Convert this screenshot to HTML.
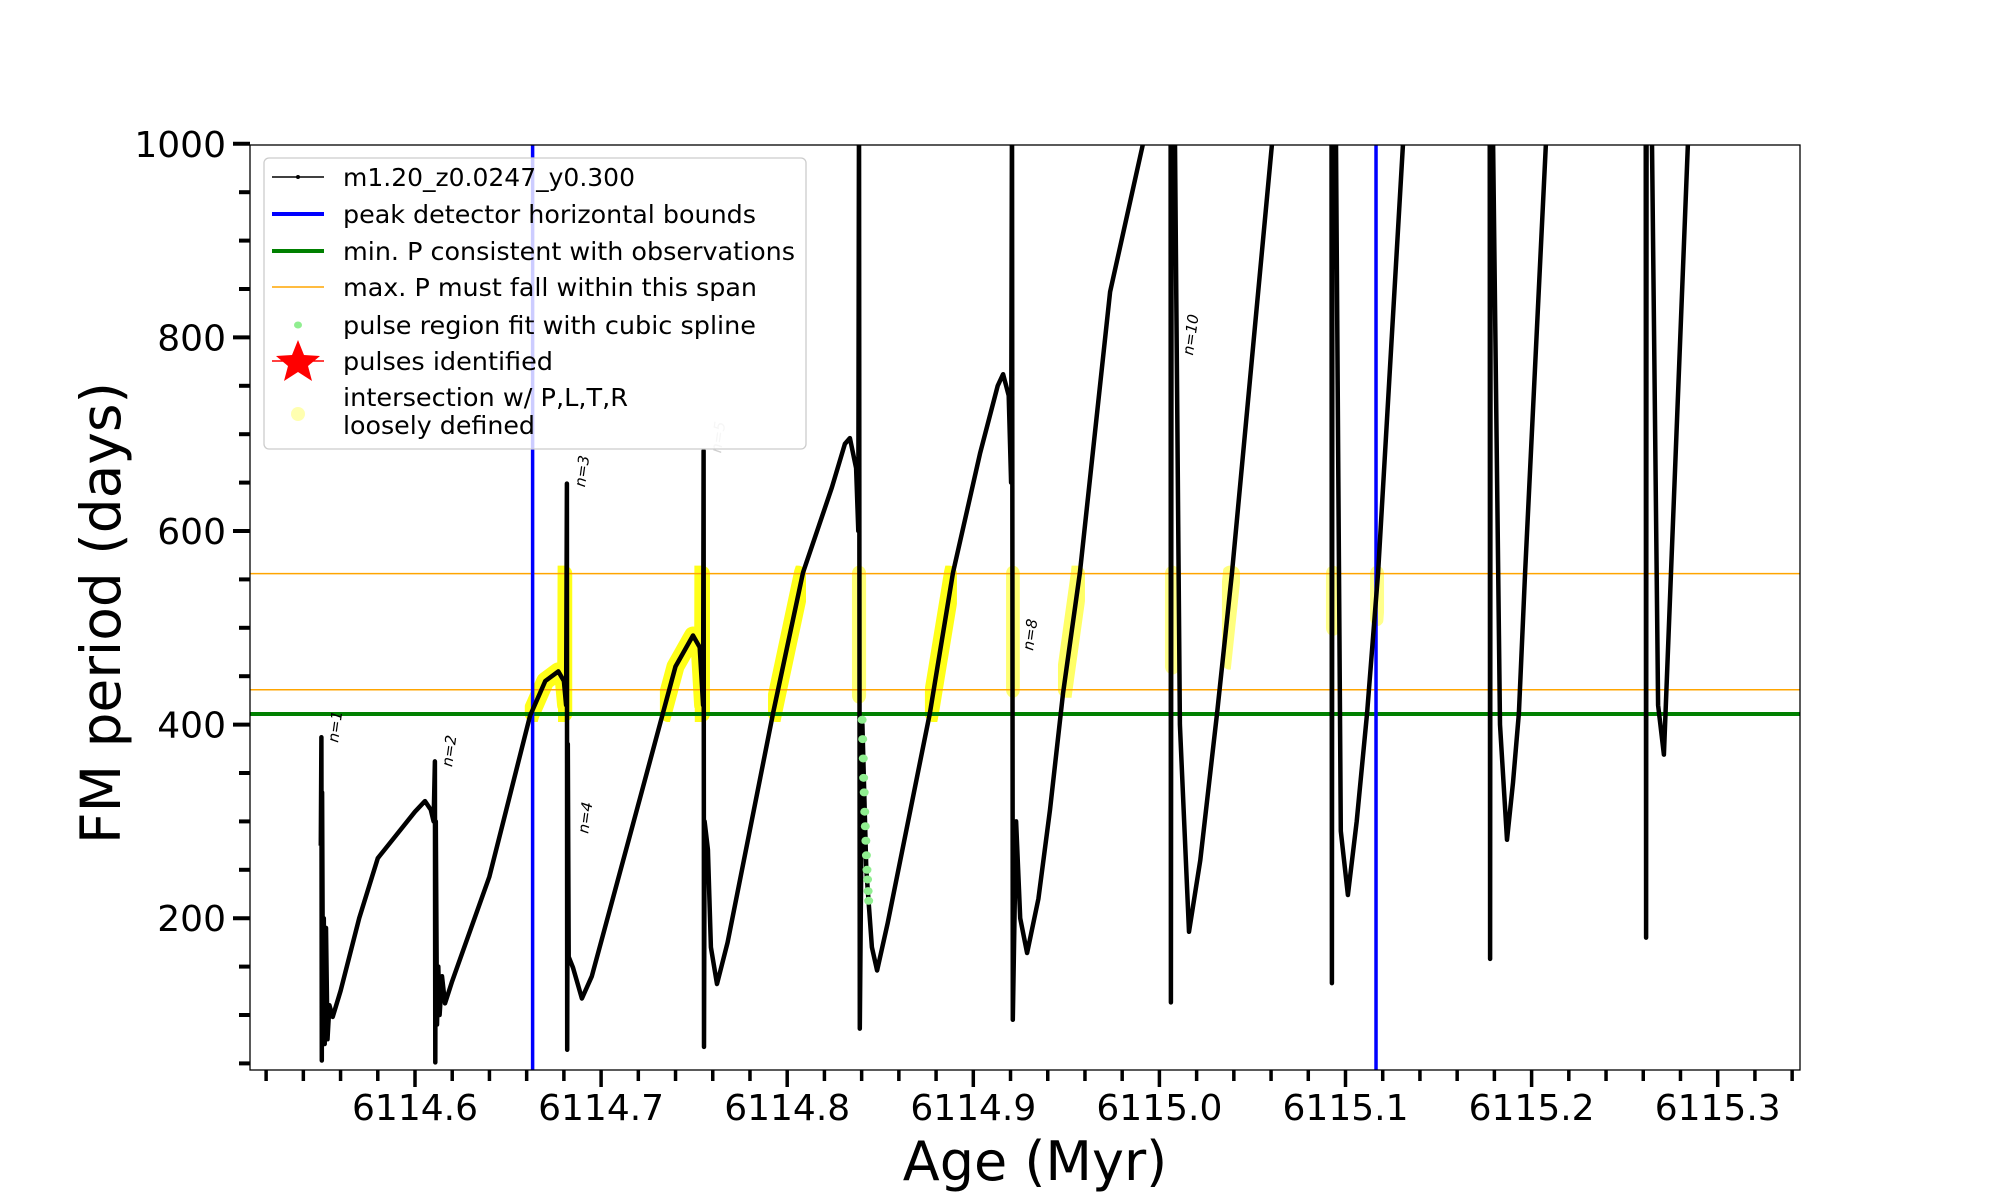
<!DOCTYPE html>
<html><head><meta charset="utf-8"><style>
body{margin:0;background:#fff}
svg{display:block;font-family:"DejaVu Sans","Liberation Sans",sans-serif}
</style></head><body>
<svg id="chart" width="2000" height="1200" viewBox="0 0 2000 1200">
<defs>
<clipPath id="plotclip"><rect x="250" y="145" width="1550" height="925"/></clipPath>
</defs>
<g id="hl" clip-path="url(#plotclip)"></g>
<g id="plot" clip-path="url(#plotclip)"></g>
<rect x="250" y="145" width="1550" height="925" fill="none" stroke="#000" stroke-width="1.3"/>
<g id="axes"></g>
<text x="1035" y="1180" font-size="54" text-anchor="middle">Age (Myr)</text>
<text transform="translate(120,613) rotate(-90)" font-size="55" text-anchor="middle">FM period (days)</text>
<g id="legend">
<rect x="264" y="158" width="542" height="291" rx="5" fill="#fff" fill-opacity="0.8" stroke="#ccc" stroke-width="1.3"/>
<g><line x1="272" y1="177" x2="324" y2="177" stroke="#000" stroke-width="1.5"/><circle cx="298" cy="177" r="2" fill="#000"/><text x="343" y="186" font-size="25" textLength="292" lengthAdjust="spacingAndGlyphs">m1.20_z0.0247_y0.300</text></g>
<g><line x1="272" y1="214" x2="324" y2="214" stroke="#0000ff" stroke-width="4"/><text x="343" y="223" font-size="25" textLength="413" lengthAdjust="spacingAndGlyphs">peak detector horizontal bounds</text></g>
<g><line x1="272" y1="251" x2="324" y2="251" stroke="#008000" stroke-width="4"/><text x="343" y="260" font-size="25" textLength="452" lengthAdjust="spacingAndGlyphs">min. P consistent with observations</text></g>
<g><line x1="272" y1="287" x2="324" y2="287" stroke="#ffa500" stroke-width="1.5"/><text x="343" y="296" font-size="25" textLength="414" lengthAdjust="spacingAndGlyphs">max. P must fall within this span</text></g>
<g><ellipse cx="298" cy="325" rx="4" ry="3.5" fill="#90ee90"/><text x="343" y="334" font-size="25" textLength="413" lengthAdjust="spacingAndGlyphs">pulse region fit with cubic spline</text></g>
<g><line x1="272" y1="361" x2="324" y2="361" stroke="#ff0000" stroke-width="1.5"/><polygon points="298,340 304,355 320,356 308,366 312,381 298,372 284,381 288,366 276,356 292,355" fill="#ff0000"/><text x="343" y="370" font-size="25" textLength="210" lengthAdjust="spacingAndGlyphs">pulses identified</text></g>
<g><ellipse cx="298" cy="414" rx="7" ry="7" fill="#ffffb0"/><text x="343" y="406" font-size="25" textLength="285" lengthAdjust="spacingAndGlyphs">intersection w/ P,L,T,R</text><text x="343" y="434" font-size="25" textLength="192" lengthAdjust="spacingAndGlyphs">loosely defined</text></g>
</g>
</svg>
<script>
const xTicks=[6114.6,6114.7,6114.8,6114.9,6115.0,6115.1,6115.2,6115.3];
const xTickLabels=["6114.6","6114.7","6114.8","6114.9","6115.0","6115.1","6115.2","6115.3"];
const yTicks=[200,400,600,800,1000];
const yTickLabels=["200","400","600","800","1000"];
const minP=411;
const maxPLow=436;
const maxPHigh=556;
const boundsAges=[6114.6632,6115.1164];
const curveAges=[6114.5494,6114.5497,6114.5499,6114.5501,6114.5505,6114.5510,6114.5515,6114.5522,6114.5530,6114.5540,6114.5558,6114.5600,6114.5700,6114.5800,6114.6000,6114.6054,6114.6085,6114.6100,6114.6107,6114.6109,6114.6112,6114.6118,6114.6125,6114.6132,6114.6145,6114.6161,6114.6200,6114.6400,6114.6618,6114.6700,6114.6770,6114.6800,6114.6812,6114.6816,6114.6818,6114.6821,6114.6826,6114.6849,6114.6870,6114.6897,6114.6950,6114.7209,6114.7400,6114.7494,6114.7530,6114.7548,6114.7551,6114.7553,6114.7556,6114.7574,6114.7590,6114.7623,6114.7680,6114.7924,6114.8085,6114.8240,6114.8310,6114.8337,6114.8370,6114.8382,6114.8386,6114.8390,6114.8404,6114.8425,6114.8455,6114.8483,6114.8540,6114.8767,6114.8891,6114.9036,6114.9131,6114.9160,6114.9190,6114.9203,6114.9208,6114.9212,6114.9230,6114.9252,6114.9289,6114.9350,6114.9412,6114.9482,6114.9573,6114.9735,6114.9912,6115.0000,6115.0060,6115.0062,6115.0066,6115.0084,6115.0110,6115.0159,6115.0220,6115.0310,6115.0390,6115.0605,6115.0700,6115.0925,6115.0927,6115.0930,6115.0949,6115.0975,6115.1013,6115.1060,6115.1116,6115.1175,6115.1309,6115.1400,6115.1775,6115.1777,6115.1780,6115.1793,6115.1830,6115.1868,6115.1900,6115.1932,6115.1965,6115.2077,6115.2150,6115.2613,6115.2615,6115.2618,6115.2647,6115.2680,6115.2711,6115.2749,6115.2840,6115.2900];
const curveP=[275,387,53,330,120,200,70,190,75,110,98,125,200,262,310,321,312,300,362,51,300,90,150,100,140,112,135,243,409,445,455,445,420,649,64,380,160,149,135,117,140,324,460,492,480,420,683,67,300,271,170,132,175,412,557,645,690,696,665,600,1050,86,400,250,170,146,195,412,557,680,750,762,740,650,1050,95,300,200,164,220,312,432,557,847,1000,1060,1100,113,1100,1000,400,186,260,412,557,1000,1100,1100,133,1100,1000,290,224,300,412,557,1000,1100,1100,158,1100,1000,400,281,340,412,557,1000,1100,1100,180,1100,1000,420,369,557,1000,1100];
const splineAges=[6114.8392,6114.8395,6114.8398,6114.8400,6114.8403,6114.8406,6114.8409,6114.8412,6114.8415,6114.8418,6114.8421,6114.8424,6114.8427];
const splineP=[405,385,365,345,330,310,295,280,265,250,240,228,218];
const hlAgeStart=[6114.6590,6114.7316,6114.7897,6114.8348,6114.8740,6114.9176,6114.9455,6115.0030,6115.0336,6115.0895,6115.1132];
const hlAgeEnd=[6114.6845,6114.7585,6114.8101,6114.8424,6114.8912,6114.9250,6114.9600,6115.0110,6115.0433,6115.0970,6115.1207];
const hlPLow=[411,411,411,430,411,436,436,460,465,500,510];
const hlOpacity=[0.9,0.9,0.9,0.55,0.9,0.55,0.6,0.45,0.5,0.45,0.45];
const nLabels=["n=1","n=2","n=3","n=4","n=5","n=8","n=10"];
const nLabelAges=[6114.5586,6114.6199,6114.6913,6114.6930,6114.7644,6114.9321,6115.0180];
const nLabelP=[381,356,645,287,680,476,781];

const X=a=>415+(a-6114.6)*1861;
const Y=p=>724.6-(p-400)*0.968;
const NS="http://www.w3.org/2000/svg";
function mk(tag,attrs,parent){const e=document.createElementNS(NS,tag);for(const k in attrs)e.setAttribute(k,attrs[k]);parent.appendChild(e);return e;}
const plot=document.getElementById('plot');
const hl=document.getElementById('hl');
const axes=document.getElementById('axes');
const defs=document.querySelector('defs');

const pts=curveAges.map((a,i)=>X(a).toFixed(1)+','+Y(curveP[i]).toFixed(1)).join(' ');

hlAgeStart.forEach((a,i)=>{
  const cp=mk('clipPath',{id:'hlc'+i},defs);
  mk('rect',{x:X(a),y:Y(maxPHigh)-8,width:X(hlAgeEnd[i])-X(a),height:Y(hlPLow[i])-Y(maxPHigh)+16,rx:8},cp);
  const p=mk('polyline',{points:pts,fill:'none',stroke:'#ffff00','stroke-width':18,'stroke-linejoin':'round','stroke-linecap':'round','clip-path':'url(#hlc'+i+')',opacity:hlOpacity[i]},hl);
  
  
});

const gl=mk('line',{x1:250,x2:1800,y1:Y(minP),y2:Y(minP),stroke:'#008000','stroke-width':4},plot);


[maxPLow,maxPHigh].forEach(p=>{const l=mk('line',{x1:250,x2:1800,y1:Y(p),y2:Y(p),stroke:'#ffa500','stroke-width':1.5},plot);

});
boundsAges.forEach(a=>{const l=mk('line',{x1:X(a),x2:X(a),y1:145,y2:1070,stroke:'#0000ff','stroke-width':3.5},plot);

});

const cl=mk('polyline',{points:pts,fill:'none',stroke:'#000','stroke-width':4.5,'stroke-linejoin':'round'},plot);



splineAges.forEach((a,i)=>{const c=mk('ellipse',{cx:X(a)+2,cy:Y(splineP[i]),rx:4.5,ry:4,fill:'#90ee90'},plot);

});

nLabels.forEach((t,i)=>{const x=X(nLabelAges[i]),y=Y(nLabelP[i]);
const e=mk('text',{transform:`translate(${x},${y}) rotate(-82)`,'font-size':15,'font-style':'italic',fill:t==='n=5'?'#d0d0d0':'#000'},plot);
e.textContent=t;

});

for(let k=0;k<=41;k++){const a=6114.52+k*0.02;const x=X(a);if(x<250||x>1800)continue;
const major=xTicks.some(t=>Math.abs(t-a)<1e-6);
const l=mk('line',{x1:x,x2:x,y1:1070,y2:1070+(major?17:11),stroke:'#000','stroke-width':3.5},axes);

}
xTicks.forEach((t,i)=>{const e=mk('text',{x:X(t),y:1120,'font-size':36,'text-anchor':'middle'},axes);e.textContent=xTickLabels[i];

});
for(let p=50;p<=1000;p+=50){const y=Y(p);const major=yTicks.includes(p);
const l=mk('line',{x1:250-(major?17:11),x2:250,y1:y,y2:y,stroke:'#000','stroke-width':4},axes);

}
yTicks.forEach((t,i)=>{const e=mk('text',{x:226,y:Y(t)+13,'font-size':36,'text-anchor':'end'},axes);e.textContent=yTickLabels[i];

});
</script>
</body></html>
